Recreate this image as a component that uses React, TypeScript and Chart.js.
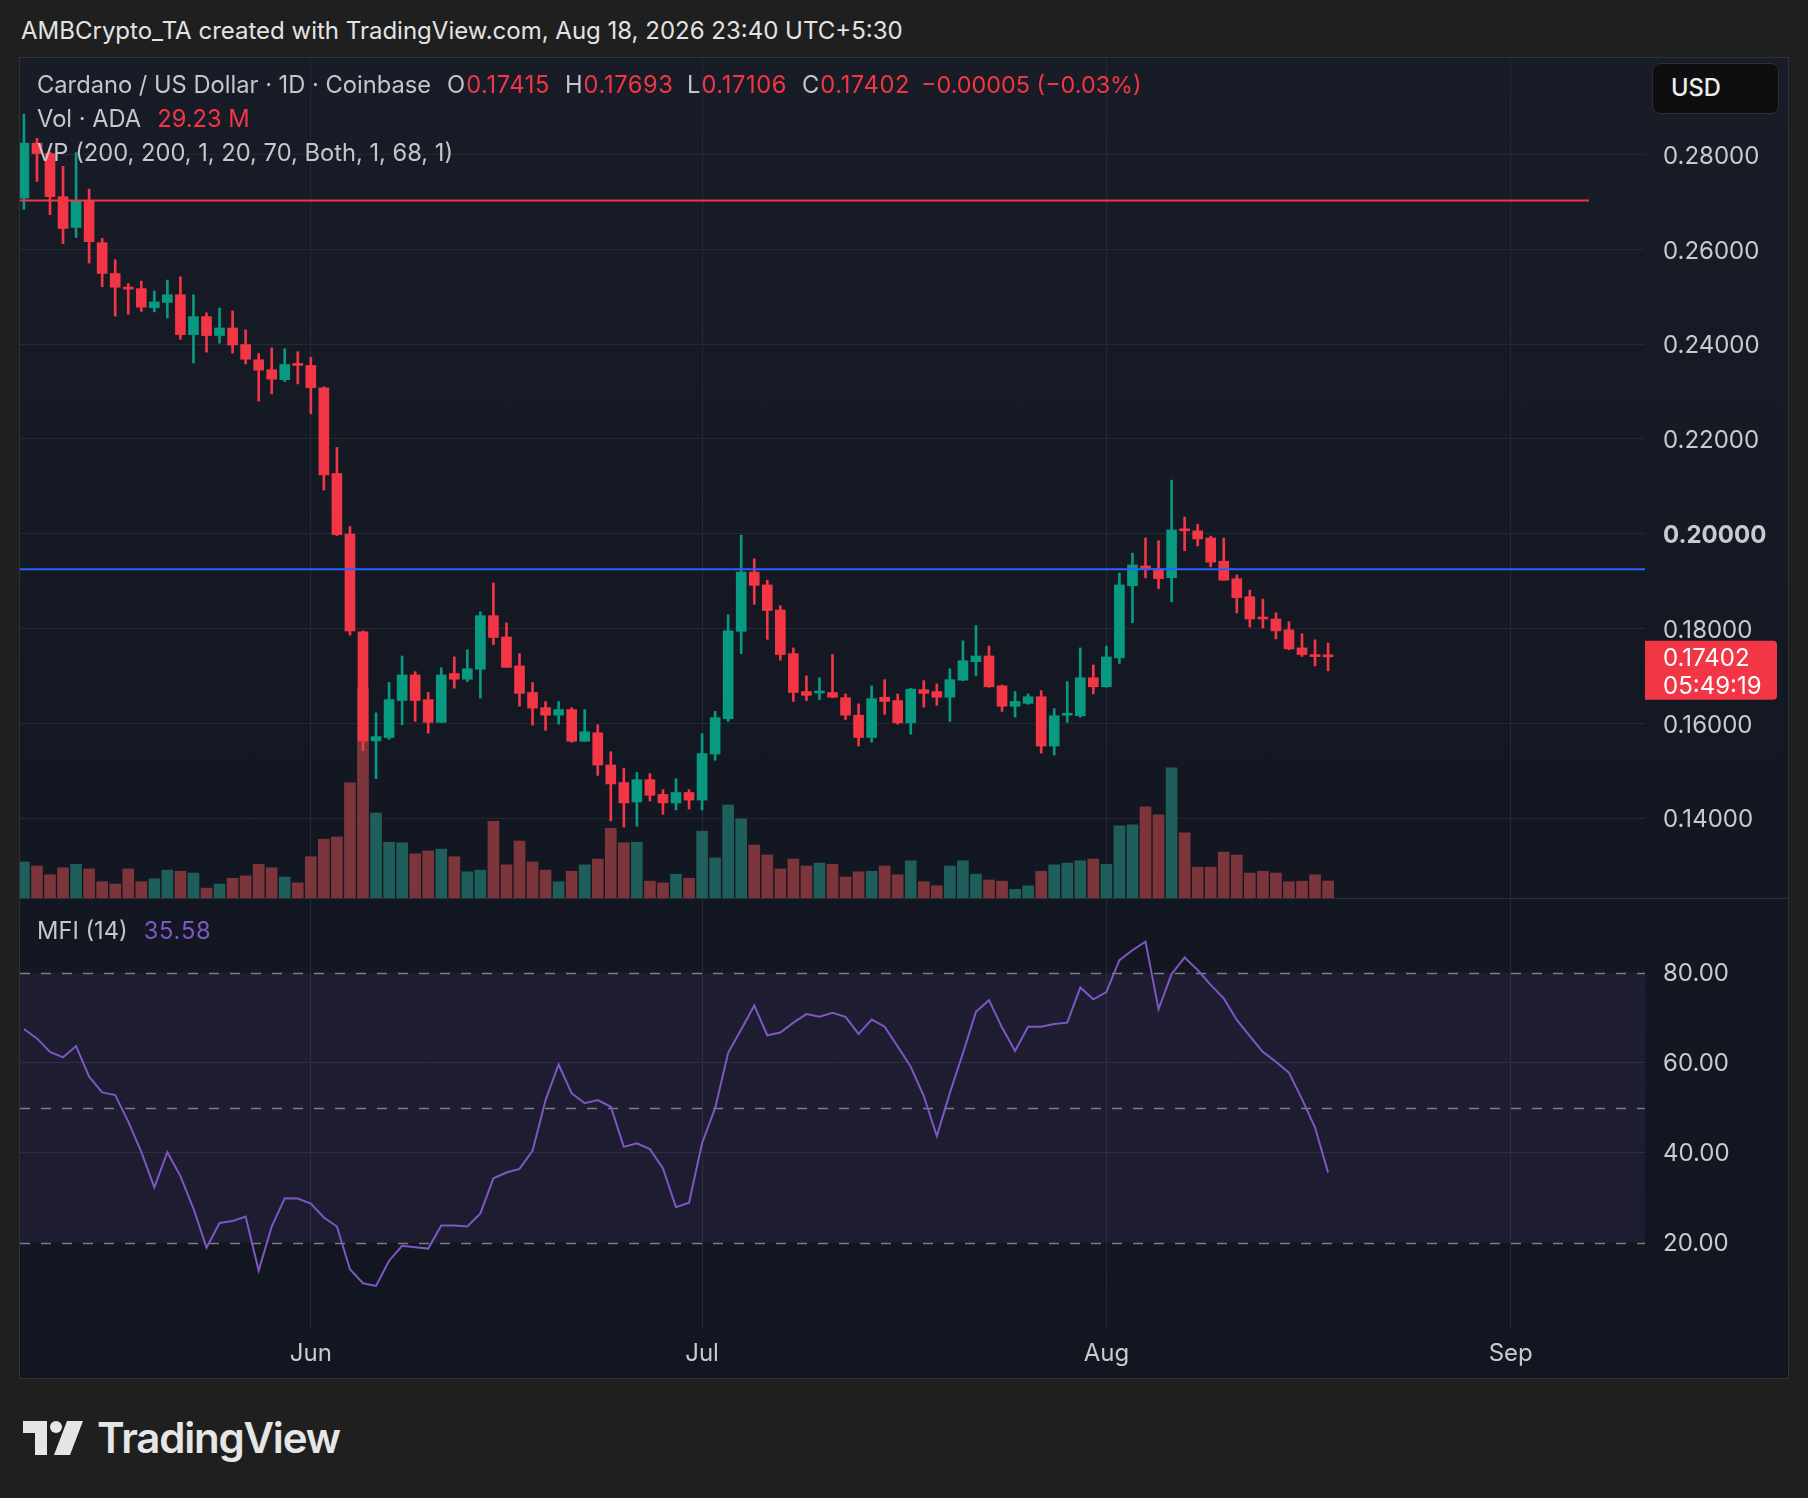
import React, { useEffect, useRef } from "react";
import { Chart, registerables } from "chart.js";

Chart.register(...registerables);

const FONT = "Inter, 'Noto Sans', sans-serif";

// ---- data (daily ADA/USD candles, 2026-05-10 .. 2026-08-18) ----
const opens = [
  0.2708, 0.2824, 0.2802, 0.2711, 0.2646, 0.2703, 0.2614, 0.2549, 0.252, 0.2517,
  0.2477, 0.2488, 0.2504, 0.242, 0.2458, 0.2418, 0.2434, 0.2399, 0.2367, 0.2346,
  0.2325, 0.2359, 0.2355, 0.2308, 0.2127, 0.1999, 0.1793, 0.1563, 0.157, 0.1648,
  0.1702, 0.165, 0.1602, 0.1705, 0.1693, 0.1714, 0.1827, 0.1782, 0.1721, 0.1665,
  0.1633, 0.1617, 0.1629, 0.1562, 0.158, 0.1512, 0.1475, 0.1434, 0.1481, 0.145,
  0.1432, 0.1454, 0.1438, 0.1535, 0.161, 0.1794, 0.1919, 0.1892, 0.1839, 0.1747,
  0.1667, 0.1664, 0.1665, 0.1654, 0.1617, 0.157, 0.1655, 0.1648, 0.1601, 0.1671,
  0.1667, 0.1655, 0.1691, 0.173, 0.1742, 0.1679, 0.1636, 0.1642, 0.1656, 0.1552,
  0.1617, 0.1616, 0.1696, 0.1677, 0.1738, 0.189, 0.1932, 0.1926, 0.1907, 0.2009,
  0.2006, 0.1991, 0.1942, 0.1905, 0.1867, 0.1823, 0.182, 0.1797, 0.1759, 0.1745,
  0.17415,
];
const highs = [
  0.2885, 0.2834, 0.2805, 0.2775, 0.2804, 0.2727, 0.2623, 0.2578, 0.2528, 0.2533,
  0.2512, 0.2535, 0.2542, 0.2504, 0.2466, 0.2476, 0.247, 0.243, 0.238, 0.2392,
  0.239, 0.2384, 0.2372, 0.231, 0.2182, 0.2015, 0.1795, 0.1622, 0.1686, 0.1742,
  0.1709, 0.1665, 0.1717, 0.174, 0.1755, 0.1835, 0.1896, 0.1812, 0.1747, 0.1686,
  0.1646, 0.1646, 0.1633, 0.1629, 0.1597, 0.154, 0.1505, 0.1496, 0.1494, 0.146,
  0.1483, 0.146, 0.1578, 0.1625, 0.1829, 0.1997, 0.1947, 0.1902, 0.1848, 0.1759,
  0.17, 0.1696, 0.1745, 0.1662, 0.1641, 0.1679, 0.1692, 0.1662, 0.1674, 0.169,
  0.1683, 0.1715, 0.1774, 0.1806, 0.1763, 0.1681, 0.1667, 0.1662, 0.1669, 0.1631,
  0.1688, 0.1759, 0.1723, 0.1763, 0.1917, 0.1959, 0.1991, 0.1985, 0.2113, 0.2035,
  0.202, 0.1995, 0.1991, 0.1913, 0.1881, 0.1862, 0.1833, 0.1814, 0.1789, 0.1776,
  0.17693,
];
const lows = [
  0.2684, 0.2743, 0.2673, 0.2612, 0.2625, 0.2571, 0.2521, 0.2459, 0.2463, 0.2469,
  0.2468, 0.2455, 0.241, 0.236, 0.2383, 0.2402, 0.2381, 0.2358, 0.228, 0.2295,
  0.2321, 0.2316, 0.2253, 0.2092, 0.1996, 0.1786, 0.1542, 0.1483, 0.1566, 0.1597,
  0.1604, 0.1579, 0.1602, 0.1674, 0.1688, 0.1653, 0.1766, 0.1718, 0.1636, 0.1596,
  0.1585, 0.1598, 0.156, 0.1562, 0.149, 0.1394, 0.1381, 0.1383, 0.1436, 0.1408,
  0.1417, 0.1419, 0.1417, 0.1522, 0.1604, 0.1747, 0.1851, 0.1777, 0.1733, 0.1646,
  0.1648, 0.165, 0.1654, 0.1608, 0.1552, 0.156, 0.1619, 0.1598, 0.1577, 0.1634,
  0.1638, 0.1604, 0.169, 0.17, 0.1676, 0.1625, 0.1613, 0.164, 0.1537, 0.1533,
  0.1602, 0.1613, 0.1662, 0.1676, 0.1726, 0.1812, 0.1907, 0.1884, 0.1856, 0.1964,
  0.1974, 0.193, 0.1902, 0.1833, 0.1803, 0.1801, 0.1778, 0.1755, 0.1741, 0.1721,
  0.17106,
];
const closes = [
  0.2824, 0.2802, 0.2711, 0.2644, 0.2703, 0.2616, 0.2549, 0.252, 0.2516, 0.2478,
  0.2489, 0.2504, 0.242, 0.2458, 0.2418, 0.2434, 0.2398, 0.2368, 0.2345, 0.2326,
  0.2357, 0.2355, 0.2308, 0.2124, 0.1998, 0.1795, 0.1563, 0.1572, 0.165, 0.1702,
  0.1648, 0.1602, 0.1702, 0.1693, 0.1715, 0.1827, 0.1781, 0.1718, 0.1663, 0.1632,
  0.1617, 0.1629, 0.1562, 0.1582, 0.1512, 0.1472, 0.1432, 0.1481, 0.1448, 0.1432,
  0.1454, 0.1438, 0.1536, 0.1612, 0.1795, 0.1919, 0.1891, 0.1838, 0.1745, 0.1665,
  0.1659, 0.1667, 0.1655, 0.1617, 0.157, 0.1652, 0.1646, 0.1601, 0.1672, 0.1663,
  0.1655, 0.1692, 0.1732, 0.1742, 0.1677, 0.1636, 0.1646, 0.1656, 0.1552, 0.1616,
  0.162, 0.1696, 0.1677, 0.174, 0.1892, 0.1934, 0.1925, 0.1905, 0.2008, 0.2006,
  0.1989, 0.194, 0.1902, 0.1865, 0.182, 0.182, 0.1795, 0.1757, 0.1745, 0.17407,
  0.17402,
];
const volumesM = [
  62, 55, 40, 52, 58, 50, 28, 24, 50, 28,
  33, 48, 46, 43, 17, 24, 34, 38, 58, 52,
  36, 26, 71, 101, 105, 198, 361, 146, 96, 95,
  76, 81, 84, 71, 45, 48, 132, 57, 98, 62,
  48, 28, 46, 57, 67, 120, 95, 96, 29, 26,
  41, 34, 115, 69, 160, 136, 91, 74, 50, 67,
  55, 60, 58, 36, 45, 46, 55, 40, 64, 28,
  21, 55, 64, 41, 31, 29, 15, 21, 46, 57,
  60, 64, 67, 58, 124, 126, 157, 143, 224, 112,
  53, 53, 79, 74, 43, 46, 43, 28, 29, 40,
  29.23,
];
const mfiValues = [
  67.5, 65.4, 62.4, 61.2, 63.7, 56.9, 53.4, 52.8, 46.9, 40.2,
  32.3, 40.1, 34.8, 27.6, 18.9, 24.4, 24.8, 25.8, 13.8, 23.6,
  29.9, 29.8, 28.7, 25.6, 23.6, 14.1, 11.0, 10.4, 16.0, 19.3,
  19.0, 18.7, 23.8, 23.8, 23.6, 26.5, 34.3, 35.6, 36.4, 40.4,
  51.7, 59.6, 53.2, 51.0, 51.7, 50.2, 41.3, 42.1, 40.8, 36.5,
  27.9, 28.9, 42.1, 49.9, 62.2, 67.4, 72.7, 66.1, 66.7, 68.9,
  70.8, 70.2, 71.1, 70.2, 66.4, 69.6, 68.0, 63.6, 59.1, 52.6,
  43.7, 53.3, 62.1, 71.3, 73.9, 67.8, 62.6, 68.0, 68.0, 68.6,
  68.9, 76.7, 74.1, 75.7, 82.8, 85.0, 86.9, 71.9, 79.7, 83.4,
  80.6, 77.3, 74.3, 69.5, 65.9, 62.4, 60.2, 57.8, 51.9, 45.6,
  35.58,
];

const monthTickIndex = [22, 52, 83, 114];
const monthTickLabels = ["Jun", "Jul", "Aug", "Sep"];
const priceTicks = [0.14, 0.16, 0.18, 0.2, 0.22, 0.24, 0.26, 0.28];
const mfiTicks = [20, 40, 60, 80];
const mfiDashedLevels = [20, 50, 80];
const MFI_UPPER = 80;
const MFI_LOWER = 20;

const resistanceLevel = 0.2703;
const resistanceEndIndex = 120;
const supportLevel = 0.1925;
const COUNTDOWN = "05:49:19";

// axis ranges
const X_MIN = -0.3;
const X_MAX = 124.3;
const PRICE_MIN = 0.12314;
const PRICE_MAX = 0.30036;
const VOL_MAX = 1445;
const MFI_MIN = 1.27;
const MFI_MAX = 96.38;

// styles
const UP = "#089981";
const DOWN = "#f23645";
const VOL_UP = "#1f5f5b";
const VOL_DOWN = "#7d353c";
const GRID = "#252935";
const AXIS_TEXT = "#c7cad1";
const AXIS_W = 143;
const AXIS_FONT = 24;

const monthTickHook = (scale: any) => {
  scale.ticks = monthTickIndex.map((v) => ({ value: v }));
};

const lastPricePlugin = {
  id: "lastPrice",
  afterDraw(chart: any) {
    const { ctx, chartArea, scales } = chart;
    const last = closes[closes.length - 1];
    const py = scales.y.getPixelForValue(last);
    const x = chartArea.right;
    ctx.save();
    ctx.fillStyle = DOWN;
    ctx.beginPath();
    ctx.roundRect(x, py - 16, 132, 59, [0, 4, 4, 0]);
    ctx.fill();
    ctx.fillStyle = "#ffffff";
    ctx.font = `${AXIS_FONT}px ${FONT}`;
    ctx.textBaseline = "middle";
    ctx.textAlign = "left";
    ctx.fillText(last.toFixed(5), x + 18, py + 2);
    ctx.fillText(COUNTDOWN, x + 18, py + 30);
    ctx.restore();
  },
};

const mfiBandPlugin = {
  id: "mfiBand",
  beforeDatasetsDraw(chart: any) {
    const { ctx, chartArea, scales } = chart;
    const y = scales.y;
    const top = y.getPixelForValue(MFI_UPPER);
    const bot = y.getPixelForValue(MFI_LOWER);
    ctx.save();
    ctx.fillStyle = "rgba(126, 87, 194, 0.1)";
    ctx.fillRect(chartArea.left, top, chartArea.right - chartArea.left, bot - top);
    ctx.strokeStyle = "#7a7d87";
    ctx.lineWidth = 1.5;
    ctx.setLineDash([10, 11]);
    mfiDashedLevels.forEach((v) => {
      const py = Math.round(y.getPixelForValue(v)) + 0.5;
      ctx.beginPath();
      ctx.moveTo(chartArea.left, py);
      ctx.lineTo(chartArea.right, py);
      ctx.stroke();
    });
    ctx.restore();
  },
};

function PriceChart() {
  const ref = useRef<HTMLCanvasElement>(null);
  useEffect(() => {
    const idx = closes.map((_, i) => i);
    const up = closes.map((c, i) => c >= opens[i]);
    const chart = new Chart(ref.current as HTMLCanvasElement, {
      type: "bar",
      data: {
        datasets: [
          {
            type: "line",
            data: [
              { x: X_MIN, y: resistanceLevel },
              { x: resistanceEndIndex, y: resistanceLevel },
            ],
            borderColor: DOWN,
            borderWidth: 2,
            pointRadius: 0,
            yAxisID: "y",
          } as any,
          {
            type: "line",
            data: [
              { x: X_MIN, y: supportLevel },
              { x: X_MAX, y: supportLevel },
            ],
            borderColor: "#2962ff",
            borderWidth: 2,
            pointRadius: 0,
            yAxisID: "y",
          } as any,
          {
            data: idx.map((i) => ({ x: i, y: [opens[i], closes[i]] })),
            backgroundColor: up.map((u) => (u ? UP : DOWN)),
            barThickness: 10,
            minBarLength: 2,
            grouped: false,
            yAxisID: "y",
          } as any,
          {
            data: idx.map((i) => ({ x: i, y: [lows[i], highs[i]] })),
            backgroundColor: up.map((u) => (u ? UP : DOWN)),
            barThickness: 2,
            grouped: false,
            yAxisID: "y",
          } as any,
          {
            data: idx.map((i) => ({ x: i, y: volumesM[i] })),
            backgroundColor: up.map((u) => (u ? VOL_UP : VOL_DOWN)),
            barThickness: 11,
            grouped: false,
            yAxisID: "yVol",
          } as any,
        ],
      },
      options: {
        responsive: false,
        animation: false,
        events: [],
        layout: { padding: 0 },
        plugins: { legend: { display: false }, tooltip: { enabled: false } },
        scales: {
          x: {
            type: "linear",
            min: X_MIN,
            max: X_MAX,
            offset: false,
            afterBuildTicks: monthTickHook,
            ticks: { display: false },
            grid: { color: GRID, drawTicks: false, offset: false, lineWidth: 1 },
            border: { display: false },
            afterFit: (s: any) => {
              s.height = 0;
              s.paddingLeft = 0;
              s.paddingRight = 0;
            },
          },
          y: {
            type: "linear",
            position: "right",
            min: PRICE_MIN,
            max: PRICE_MAX,
            afterBuildTicks: (s: any) => {
              s.ticks = priceTicks.map((v) => ({ value: v }));
            },
            ticks: {
              color: AXIS_TEXT,
              padding: 18,
              labelOffset: 2,
              font: (ctx: any) => ({
                family: FONT,
                size: AXIS_FONT,
                weight: ctx.tick && Math.abs(ctx.tick.value - 0.2) < 1e-9 ? "bold" : "normal",
              }),
              callback: (v: any) => Number(v).toFixed(5),
            },
            grid: { color: GRID, drawTicks: false },
            border: { display: false },
            afterFit: (s: any) => {
              s.width = AXIS_W;
              s.paddingTop = 0;
              s.paddingBottom = 0;
            },
          },
          yVol: {
            type: "linear",
            display: false,
            min: 0,
            max: VOL_MAX,
          },
        },
      } as any,
      plugins: [lastPricePlugin],
    });
    return () => chart.destroy();
  }, []);
  return <canvas ref={ref} width={1768} height={840} style={{ position: "absolute", left: 20, top: 58, width: 1768, height: 840 }} />;
}

function MfiChart() {
  const ref = useRef<HTMLCanvasElement>(null);
  useEffect(() => {
    const chart = new Chart(ref.current as HTMLCanvasElement, {
      type: "line",
      data: {
        datasets: [
          {
            data: mfiValues.map((v, i) => ({ x: i, y: v })),
            borderColor: "#7e57c2",
            borderWidth: 2,
            pointRadius: 0,
            tension: 0,
          },
        ],
      },
      options: {
        responsive: false,
        animation: false,
        events: [],
        layout: { padding: 0 },
        plugins: { legend: { display: false }, tooltip: { enabled: false } },
        scales: {
          x: {
            type: "linear",
            min: X_MIN,
            max: X_MAX,
            offset: false,
            afterBuildTicks: monthTickHook,
            ticks: {
              color: AXIS_TEXT,
              font: { family: FONT, size: AXIS_FONT },
              padding: 12,
              maxRotation: 0,
              autoSkip: false,
              callback: (v: any) => monthTickLabels[monthTickIndex.indexOf(Number(v))] ?? "",
            },
            grid: { color: GRID, drawTicks: false },
            border: { display: false },
            afterFit: (s: any) => {
              s.height = 51;
              s.paddingLeft = 0;
              s.paddingRight = 0;
            },
          },
          y: {
            type: "linear",
            position: "right",
            min: MFI_MIN,
            max: MFI_MAX,
            afterBuildTicks: (s: any) => {
              s.ticks = mfiTicks.map((v) => ({ value: v }));
            },
            ticks: {
              color: AXIS_TEXT,
              padding: 18,
              labelOffset: 1.5,
              font: { family: FONT, size: AXIS_FONT },
              callback: (v: any) => Number(v).toFixed(2),
            },
            grid: {
              color: (ctx: any) =>
                ctx.tick && (ctx.tick.value === MFI_UPPER || ctx.tick.value === MFI_LOWER) ? "rgba(0,0,0,0)" : GRID,
              drawTicks: false,
            },
            border: { display: false },
            afterFit: (s: any) => {
              s.width = AXIS_W;
              s.paddingTop = 0;
              s.paddingBottom = 0;
            },
          },
        },
      } as any,
      plugins: [mfiBandPlugin],
    });
    return () => chart.destroy();
  }, []);
  return <canvas ref={ref} width={1768} height={479} style={{ position: "absolute", left: 20, top: 899, width: 1768, height: 479 }} />;
}

const LEGEND_SIZE = 23.7;

const txt = (extra: React.CSSProperties): React.CSSProperties => ({
  position: "absolute",
  fontFamily: FONT,
  fontSize: LEGEND_SIZE,
  lineHeight: "28px",
  whiteSpace: "nowrap",
  ...extra,
});

const LABEL = "#c3c6ce";

const ohlcLegend = [
  { key: "O", value: opens[opens.length - 1].toFixed(5), left: 447 },
  { key: "H", value: highs[highs.length - 1].toFixed(5), left: 565 },
  { key: "L", value: lows[lows.length - 1].toFixed(5), left: 687 },
  { key: "C", value: closes[closes.length - 1].toFixed(5), left: 802 },
];

export default function App() {
  return (
    <div style={{ position: "absolute", left: 0, top: 0, width: 1808, height: 1498, background: "#1f1f1f", overflow: "hidden" }}>
      <div style={txt({ left: 21, top: 17, fontSize: 24, color: "#e3e3e3" })}>
        AMBCrypto_TA created with TradingView.com, Aug 18, 2026 23:40 UTC+5:30
      </div>
      <div
        style={{
          position: "absolute",
          left: 19,
          top: 57,
          width: 1770,
          height: 1322,
          boxSizing: "border-box",
          border: "1px solid #2f333d",
          background: "linear-gradient(#181c27, #131721 60%, #121620)",
        }}
      />
      <PriceChart />
      <div style={{ position: "absolute", left: 20, top: 898, width: 1768, height: 1, background: "#2c303b" }} />
      <MfiChart />

      <div style={txt({ left: 37, top: 71, color: LABEL })}>Cardano / US Dollar · 1D · Coinbase</div>
      {ohlcLegend.map((g) => (
        <div key={g.key} style={txt({ left: g.left, top: 71, color: LABEL })}>
          <span>{g.key}</span>
          <span style={{ color: DOWN, letterSpacing: 0.6, marginLeft: 1 }}>{g.value}</span>
        </div>
      ))}
      <div style={txt({ left: 921, top: 71, color: DOWN, fontSize: 23.4 })}>−0.00005 (−0.03%)</div>
      <div style={txt({ left: 37, top: 105, color: LABEL })}>
        <span>Vol · ADA</span>
        <span style={{ marginLeft: 16, color: DOWN }}>29.23 M</span>
      </div>
      <div style={txt({ left: 37, top: 139, color: LABEL })}>VP (200, 200, 1, 20, 70, Both, 1, 68, 1)</div>
      <div style={txt({ left: 37, top: 917, color: LABEL })}>
        <span>MFI (14)</span>
        <span style={{ marginLeft: 16, color: "#7e57c2", letterSpacing: 0.8 }}>35.58</span>
      </div>

      <div
        style={{
          position: "absolute",
          left: 1652,
          top: 63,
          width: 127,
          height: 51,
          boxSizing: "border-box",
          background: "#0e0e10",
          border: "1px solid #2d2e33",
          borderRadius: 8,
        }}
      />
      <div style={txt({ left: 1671, top: 74, color: "#ececec", fontWeight: 500 })}>USD</div>

      <svg style={{ position: "absolute", left: 23, top: 1421 }} width={62} height={36} viewBox="0 0 62 36">
        <path d="M0 0 H24 V34 H12 V12 H0 Z" fill="#e6e6e6" />
        <circle cx={33} cy={6} r={6} fill="#e6e6e6" />
        <path d="M44 0 H60 L47 34 H31 Z" fill="#e6e6e6" />
      </svg>
      <div style={txt({ left: 97, top: 1414, fontSize: 42, lineHeight: "48px", fontWeight: 600, letterSpacing: -1.2, color: "#e6e6e6" })}>
        TradingView
      </div>
    </div>
  );
}
